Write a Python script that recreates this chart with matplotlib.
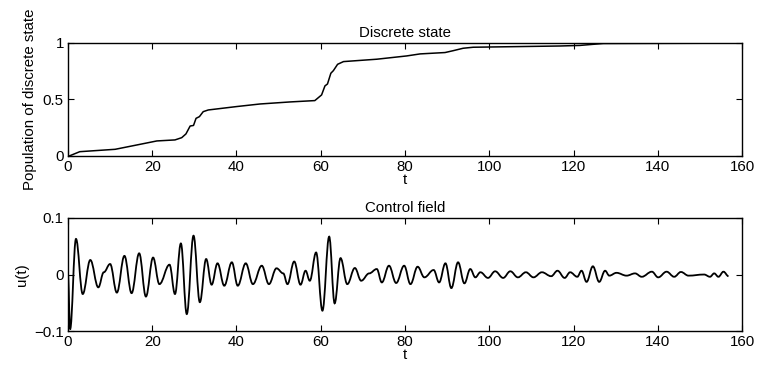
import numpy as np
import matplotlib.pyplot as plt
from matplotlib.path import Path
from matplotlib.patches import PathPatch

plt.rcParams['font.family'] = ['Liberation Sans', 'DejaVu Sans']

# population of the discrete state
t_pop = [0.0, 0.3, 2.8, 11.2, 16.3, 21.1, 25.4, 27.0, 28.0, 29.0, 29.8, 30.4,
         31.2, 32.1, 33.3, 40.0, 45.6, 52.7, 58.6, 60.2, 61.0, 61.6, 62.4,
         63.0, 64.0, 65.4, 73.3, 80.4, 83.6, 89.5, 91.5, 93.8, 96.2, 116.8,
         121.5, 124.7, 127.1, 157.0]
pop = [0.0, 0.0, 0.038, 0.059, 0.097, 0.133, 0.142, 0.162, 0.195, 0.265, 0.27,
       0.333, 0.348, 0.392, 0.407, 0.437, 0.46, 0.478, 0.49, 0.54, 0.62, 0.637,
       0.732, 0.755, 0.811, 0.835, 0.856, 0.885, 0.903, 0.915, 0.932, 0.953,
       0.962, 0.973, 0.978, 0.988, 0.995, 0.998]

# control field extrema
t_u = [0.0, 0.5, 1.9, 3.5, 5.3, 7.2, 8.5, 10.0, 11.6, 13.4, 15.1, 16.9, 18.5,
       20.2, 21.7, 24.1, 25.4, 26.8, 28.2, 29.8, 31.3, 32.8, 34.1, 35.5, 37.1,
       38.9, 40.3, 42.2, 43.9, 46.0, 47.7, 49.5, 51.1, 52.1, 53.7, 55.2, 56.4,
       57.4, 58.9, 60.4, 62.0, 63.3, 64.7, 66.3, 68.1, 69.6, 71.5, 73.3, 74.5,
       76.2, 77.9, 79.8, 81.3, 83.0, 84.6, 86.8, 88.1, 89.6, 91.0, 92.6, 94.1,
       95.5, 96.7, 97.9, 99.7, 101.4, 103.3, 105.0, 106.8, 108.7, 110.5, 112.5,
       114.7, 116.2, 117.9, 119.2, 120.9, 121.9, 123.1, 124.6, 126.1, 127.5,
       128.5, 130.2, 132.6, 134.6, 136.2, 138.6, 140.1, 142.1, 143.9, 145.5,
       147.3, 151.0, 152.4, 153.4, 154.4, 155.6, 156.8]
u = [0.0, -0.097, 0.063, -0.0345, 0.0257, -0.0227, 0.004, 0.0186, -0.032,
     0.033, -0.033, 0.0375, -0.039, 0.030, -0.017, 0.0174, -0.0345, 0.055,
     -0.070, 0.0687, -0.049, 0.0274, -0.018, 0.0198, -0.0198, 0.0216, -0.0198,
     0.0198, -0.017, 0.0156, -0.017, 0.011, 0.002, -0.017, 0.023, -0.018,
     0.0067, -0.011, 0.039, -0.064, 0.067, -0.051, 0.029, -0.017, 0.0115,
     -0.011, 0.002, 0.0097, -0.014, 0.0156, -0.015, 0.0156, -0.017, 0.0138,
     -0.005, 0.008, -0.014, 0.0198, -0.024, 0.0216, -0.0156, 0.0097, -0.005,
     0.004, -0.006, 0.0057, -0.006, 0.0057, -0.005, 0.004, -0.005, 0.004,
     -0.003, 0.0067, -0.006, 0.004, -0.004, 0.0067, -0.013, 0.0145, -0.013,
     0.0067, -0.002, 0.003, -0.002, 0.002, -0.004, 0.005, -0.005, 0.005,
     -0.004, 0.0045, -0.002, 0.0, -0.004, 0.002, -0.004, 0.005, -0.003]

xticks = [0, 20, 40, 60, 80, 100, 120, 140, 160]
fs = 10.8

fig = plt.figure(figsize=(7.57, 3.67), dpi=100)
ax1 = fig.add_axes([0.0898, 0.575, 0.8904, 0.308])
ax2 = fig.add_axes([0.0898, 0.098, 0.8904, 0.308])

ax1.plot(t_pop, pop, color='black', lw=1.1)
ax1.set_xlim(0, 160)
ax1.set_ylim(0, 1)
ax1.set_yticks([0, 0.5, 1])
ax1.set_yticklabels(['0', '0.5', '1'])
ax1.set_title('Discrete state', fontsize=fs, pad=4)
ax1.set_ylabel('Population of discrete state', fontsize=fs)
ax1.set_xlabel('t', fontsize=fs, labelpad=-1)

# smooth curve through the extrema: bezier segments, flat at each extremum
verts = [(t_u[0], u[0])]
codes = [Path.MOVETO]
for i in range(len(t_u) - 1):
    dt = (t_u[i + 1] - t_u[i]) / 2.6
    verts += [(t_u[i] + dt, u[i]), (t_u[i + 1] - dt, u[i + 1]),
              (t_u[i + 1], u[i + 1])]
    codes += [Path.CURVE4] * 3
ax2.add_patch(PathPatch(Path(verts, codes), facecolor='none',
                        edgecolor='black', lw=1.3))
ax2.set_xlim(0, 160)
ax2.set_ylim(-0.1, 0.1)
ax2.set_yticks([-0.1, 0, 0.1])
ax2.set_yticklabels(['\u22120.1', '0', '0.1'])
ax2.set_title('Control field', fontsize=fs, pad=4)
ax2.set_ylabel('u(t)', fontsize=fs)
ax2.set_xlabel('t', fontsize=fs, labelpad=-1)

for ax in (ax1, ax2):
    ax.set_xticks(xticks)
    ax.tick_params(direction='in', top=True, right=True, length=4,
                   labelsize=fs, pad=3)
    for s in ax.spines.values():
        s.set_linewidth(1.0)

fig.savefig('out.png', dpi=100)
